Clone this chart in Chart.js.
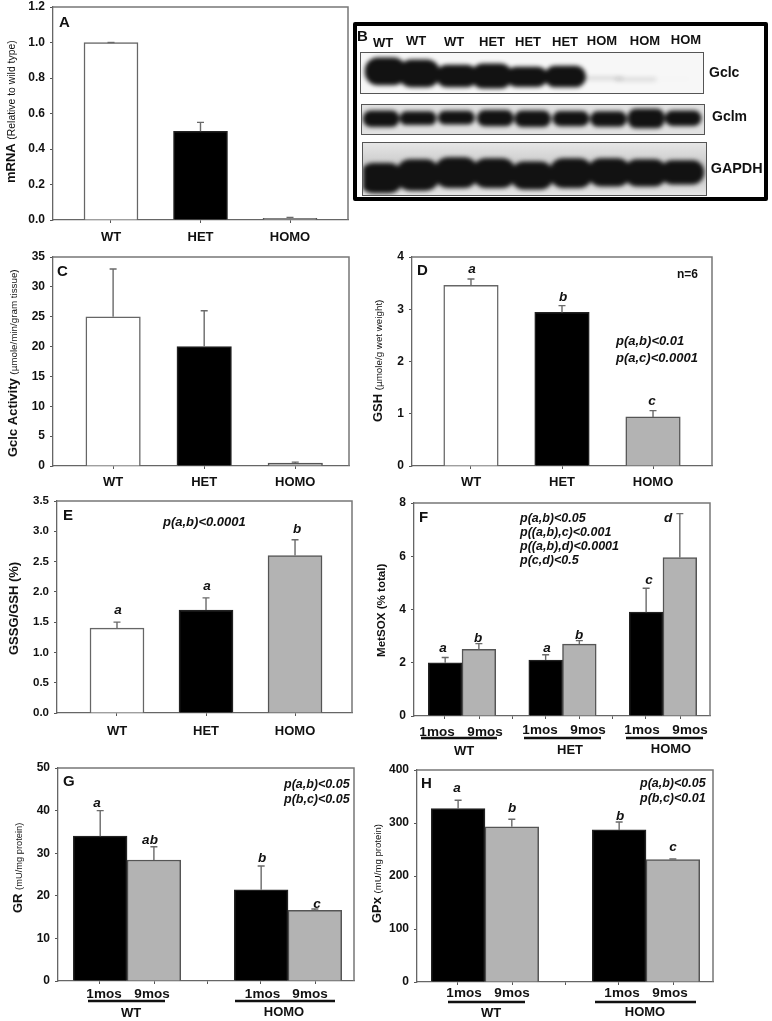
<!DOCTYPE html>
<html>
<head>
<meta charset="utf-8">
<title>Gclc panels</title>
<script src="https://cdn.jsdelivr.net/npm/chart.js@4/dist/chart.umd.min.js"></script>
<style>
  html, body { margin: 0; padding: 0; background: #fff; }
  body { position: relative; width: 772px; height: 1021px; overflow: hidden; }
  canvas.panel { position: absolute; filter: blur(0.35px); }
  .frame { position: absolute; left: 353px; top: 22px; width: 415px; height: 179px; box-sizing: border-box; border: 4px solid #000; border-radius: 2px; }
  .blot { position: absolute; box-sizing: border-box; border: 1px solid #555; overflow: hidden; }
  .blot canvas { position: absolute; left: 0; top: 0; filter: blur(2.2px); }
  .lbl { position: absolute; font-family: "Liberation Sans", Arial, sans-serif; font-weight: bold; color: #111; white-space: nowrap; line-height: normal; }
</style>
</head>
<body>
<script>
// ---- data ----
const genotypes = ["WT", "HET", "HOMO"];
const genoPos = [1, 2, 3];
const groupPos2 = [1, 2];

const mrnaValues = [1.0, 0.5, 0.01];
const mrnaErrTop = [1.0, 0.55, 0.015];
const activityValues = [25, 20, 0.5];
const activityErrTop = [33, 26, 0.65];
const gshValues = [3.46, 2.94, 0.94];
const gshErrTop = [3.58, 3.07, 1.06];
const gssgValues = [1.4, 1.7, 2.6];
const gssgErrTop = [1.5, 1.9, 2.86];

const metsox1mos = [2.0, 2.1, 3.9];
const metsox1Top = [2.2, 2.3, 4.8];
const metsox9mos = [2.5, 2.7, 5.95];
const metsox9Top = [2.72, 2.83, 7.6];
const metsoxTicks = [0.83, 1.17, 1.5, 1.83, 2.17, 2.5, 2.83, 3.17];

const gr1mos = [34, 21.4];
const gr1Top = [40, 27];
const gr9mos = [28.4, 16.6];
const gr9Top = [31.5, 16.9];
const gpx1mos = [327, 287];
const gpx1Top = [343, 302];
const gpx9mos = [293, 231];
const gpx9Top = [307, 232];
const twoGroupTicks = [0.83, 1.17, 1.5, 1.83, 2.17];

// blot bands, lane centre and band top/bottom as % of the strip
const gclcLanes = [7.2, 17, 28, 38.2, 48.5, 59.7, 70.6, 80.3, 90];
const gclcLow = [12, 17, 30, 27, 35, 33, 59, 61, 64];
const gclcHigh = [80, 85, 85, 88, 84, 85, 67, 71, 66];
const gclcShade = [1, 1, 1, 1, 1, 1, 0.12, 0.1, 0.02];
const gclmLanes = [5.6, 16.4, 27.6, 39, 49.9, 61.1, 72.1, 83.1, 93.9];
const gclmLow = [20, 23, 21, 18, 20, 22, 23, 14, 20];
const gclmHigh = [75, 68, 66, 72, 75, 72, 74, 79, 71];
const gapdhLanes = [5.3, 16, 27.2, 38.2, 49.3, 60.7, 71.8, 82.4, 93.1];
const gapdhLow = [39, 32, 28, 30, 36, 30, 30, 32, 34];
const gapdhHigh = [96, 91, 86, 86, 89, 86, 83, 83, 79];

// ---- styles ----
const FAMILY = '"Liberation Sans", Arial, sans-serif';
const bold = (s) => `bold ${s}px ${FAMILY}`;
const ital = (s) => `italic bold ${s}px ${FAMILY}`;
const reg = (s) => `${s}px ${FAMILY}`;
const WHITE = "#ffffff", BLACK = "#000000", GREY = "#b3b3b3";
const TEXT = "#111111";

Chart.defaults.font.family = FAMILY;
Chart.defaults.animation = false;

// little helpers for the annotation lists
const T = (t, x, y, font) => ({ t, x, y, font });
const C = (t, x, y, font) => ({ t, x, y, font, align: "center" });
const letter = (t, x, y) => C(t, x, y, ital(13.5));
const panelTag = (t, x, y) => T(t, x, y, bold(15));
const yTitle = (x, yBottom, runs) => ({ x, yBottom, runs });

// top and right lines of each plot box
const boxPlugin = {
  id: "box",
  afterDraw(chart) {
    const { ctx, chartArea: a } = chart;
    ctx.save();
    ctx.strokeStyle = "#777";
    ctx.lineWidth = 1.5;
    ctx.beginPath();
    ctx.moveTo(a.left, a.top);
    ctx.lineTo(a.right, a.top);
    ctx.lineTo(a.right, a.bottom);
    ctx.stroke();
    ctx.restore();
  },
};

// upper error bars, from the errTop array on each dataset
const errorPlugin = {
  id: "errors",
  afterDatasetsDraw(chart) {
    const { ctx, scales } = chart;
    ctx.save();
    ctx.strokeStyle = "#6a6a6a";
    ctx.lineWidth = 1.4;
    chart.data.datasets.forEach((ds, i) => {
      chart.getDatasetMeta(i).data.forEach((bar, j) => {
        const top = scales.y.getPixelForValue(ds.errTop[j]);
        ctx.beginPath();
        ctx.moveTo(bar.x, bar.y);
        ctx.lineTo(bar.x, top);
        ctx.moveTo(bar.x - 3.5, top);
        ctx.lineTo(bar.x + 3.5, top);
        ctx.stroke();
      });
    });
    ctx.restore();
  },
};

// free text, underlines and rotated axis titles (page coordinates)
const notesPlugin = {
  id: "notes",
  afterDraw(chart, args, opts) {
    const { ctx } = chart;
    ctx.save();
    ctx.translate(-opts.ox, -opts.oy);
    ctx.fillStyle = TEXT;
    ctx.textBaseline = "alphabetic";
    (opts.notes || []).forEach((n) => {
      ctx.font = n.font;
      ctx.textAlign = n.align || "left";
      ctx.fillText(n.t, n.x, n.y);
    });
    (opts.rules || []).forEach((r) => {
      ctx.fillRect(r[0], r[2] - 1.25, r[1] - r[0], 2.5);
    });
    if (opts.title) {
      ctx.save();
      ctx.translate(opts.title.x, opts.title.yBottom);
      ctx.rotate(-Math.PI / 2);
      ctx.textAlign = "left";
      let at = 0;
      opts.title.runs.forEach((run) => {
        ctx.font = run[1];
        ctx.fillText(run[0], at, 0);
        at += ctx.measureText(run[0]).width;
      });
      ctx.restore();
    }
    ctx.restore();
  },
};

function panel(def) {
  const [l, t, r, b] = def.plot;
  const ox = Math.max(0, l - 55);
  const oy = t - 8;
  const w = r - ox + 8;
  const bottomSpace = Math.min(44, 1021 - b);
  const h = b - oy + bottomSpace;

  const cv = document.createElement("canvas");
  cv.className = "panel";
  cv.width = w;
  cv.height = h;
  cv.style.left = ox + "px";
  cv.style.top = oy + "px";
  document.body.appendChild(cv);

  return new Chart(cv.getContext("2d"), {
    type: "bar",
    data: { datasets: def.datasets },
    options: {
      responsive: false,
      layout: { padding: { top: t - oy, right: ox + w - r, left: 0, bottom: 0 } },
      plugins: {
        legend: { display: false },
        tooltip: { enabled: false },
        notes: { ox, oy, notes: def.notes, rules: def.rules, title: def.title },
      },
      datasets: { bar: { barThickness: def.barWidth, borderWidth: 1.5, borderSkipped: "bottom", grouped: true } },
      scales: {
        x: {
          type: "linear",
          offset: false,
          min: def.xRange[0],
          max: def.xRange[1],
          border: { color: "#666", width: 1.3 },
          grid: { offset: false, drawOnChartArea: false, tickLength: 3, tickColor: "#555" },
          afterBuildTicks(axis) {
            axis.ticks = def.ticksAt.map((v) => ({ value: v }));
          },
          afterFit(axis) {
            axis.height = bottomSpace;
            axis.paddingLeft = 0;
            axis.paddingRight = 0;
          },
          ticks: {
            autoSkip: false,
            maxRotation: 0,
            padding: def.xPad || 6,
            color: TEXT,
            font: { size: 13, weight: "bold" },
            callback: (v, i) => (def.tickLabels ? def.tickLabels[i] : ""),
          },
        },
        y: {
          min: 0,
          max: def.yMax,
          border: { color: "#666", width: 1.3 },
          grid: { drawOnChartArea: false, tickLength: 3, tickColor: "#555" },
          afterFit(axis) {
            axis.width = l - ox;
            axis.paddingTop = 0;
            axis.paddingBottom = 0;
          },
          ticks: {
            stepSize: def.yStep,
            padding: 5,
            color: TEXT,
            font: { size: def.yFont || 12, weight: "bold" },
            callback: (v) => v.toFixed(def.yDec || 0),
          },
        },
      },
    },
    plugins: [boxPlugin, errorPlugin, notesPlugin],
  });
}

// one series of bars, one fill per genotype
function genoBars(label, values, errTop) {
  return [{
    label,
    data: genoPos.map((x, i) => ({ x, y: values[i] })),
    errTop,
    backgroundColor: [WHITE, BLACK, GREY],
    borderColor: ["#666", "#222", "#555"],
  }];
}
// two age series per genotype
function ageBars(pos, v1, top1, v9, top9) {
  return [
    { label: "1mos", data: pos.map((x, i) => ({ x, y: v1[i] })), errTop: top1, backgroundColor: BLACK, borderColor: "#222" },
    { label: "9mos", data: pos.map((x, i) => ({ x, y: v9[i] })), errTop: top9, backgroundColor: GREY, borderColor: "#555" },
  ];
}

// ---- panels ----
panel({
  plot: [53, 7, 348, 220], xRange: [0.352, 3.648], barWidth: 54, xPad: 7,
  ticksAt: genoPos, tickLabels: genotypes, yMax: 1.2, yStep: 0.2, yDec: 1,
  datasets: genoBars("mRNA", mrnaValues, mrnaErrTop),
  notes: [panelTag("A", 59, 27)],
  title: yTitle(15, 183, [["mRNA ", bold(13)], ["(Relative to wild type)", reg(10.4)]]),
});

panel({
  plot: [53, 257, 349, 466], xRange: [0.34, 3.59], barWidth: 54.5,
  ticksAt: genoPos, tickLabels: genotypes, yMax: 35, yStep: 5,
  datasets: genoBars("Gclc activity", activityValues, activityErrTop),
  notes: [panelTag("C", 57, 276)],
  title: yTitle(17, 457, [["Gclc Activity ", bold(13)], ["(µmole/min/gram tissue)", reg(9.8)]]),
});

panel({
  plot: [412, 257, 712, 466], xRange: [0.352, 3.648], barWidth: 54.5,
  ticksAt: genoPos, tickLabels: genotypes, yMax: 4, yStep: 1,
  datasets: genoBars("GSH", gshValues, gshErrTop),
  notes: [
    panelTag("D", 417, 275), T("n=6", 677, 278, bold(12)),
    letter("a", 472, 273), letter("b", 563, 301), letter("c", 652, 405),
    T("p(a,b)<0.01", 616, 345, ital(13)), T("p(a,c)<0.0001", 616, 362, ital(13)),
  ],
  title: yTitle(382, 422, [["GSH ", bold(13)], ["(µmole/g wet weight)", reg(9.8)]]),
});

panel({
  plot: [57, 501, 352, 713], xRange: [0.326, 3.64], barWidth: 54,
  ticksAt: genoPos, tickLabels: genotypes, yMax: 3.5, yStep: 0.5, yDec: 1, yFont: 11.5, xPad: 8,
  datasets: genoBars("GSSG/GSH", gssgValues, gssgErrTop),
  notes: [
    panelTag("E", 63, 520), T("p(a,b)<0.0001", 163, 526, ital(13)),
    letter("a", 118, 614), letter("a", 207, 590), letter("b", 297, 533),
  ],
  title: yTitle(17.5, 655, [["GSSG/GSH (%)", bold(13)]]),
});

panel({
  plot: [414, 503, 710, 716], xRange: [0.522, 3.468], barWidth: 33.7,
  ticksAt: metsoxTicks, yMax: 8, yStep: 2,
  datasets: ageBars(genoPos, metsox1mos, metsox1Top, metsox9mos, metsox9Top),
  notes: [
    panelTag("F", 419, 522),
    T("p(a,b)<0.05", 520, 522, ital(12.5)), T("p((a,b),c)<0.001", 520, 536, ital(12.5)),
    T("p((a,b),d)<0.0001", 520, 550, ital(12.5)), T("p(c,d)<0.5", 520, 564, ital(12.5)),
    letter("a", 443, 652), letter("b", 478, 642), letter("a", 547, 652),
    letter("b", 579, 639), letter("c", 649, 584), letter("d", 668, 522),
    C("1mos", 437, 736, bold(13.5)), C("9mos", 485, 736, bold(13.5)),
    C("1mos", 540, 734, bold(13.5)), C("9mos", 588, 734, bold(13.5)),
    C("1mos", 642, 734, bold(13.5)), C("9mos", 690, 734, bold(13.5)),
    C("WT", 464, 755, bold(13)), C("HET", 570, 754, bold(13)), C("HOMO", 671, 753, bold(13)),
  ],
  rules: [[421, 497, 738], [524, 601, 738], [626, 703, 738]],
  title: yTitle(385, 657, [["MetSOX (% total)", bold(11.6)]]),
});

panel({
  plot: [58, 768, 354, 981], xRange: [0.571, 2.41], barWidth: 53.7,
  ticksAt: twoGroupTicks, yMax: 50, yStep: 10,
  datasets: ageBars(groupPos2, gr1mos, gr1Top, gr9mos, gr9Top),
  notes: [
    panelTag("G", 63, 786),
    T("p(a,b)<0.05", 284, 788, ital(12.5)), T("p(b,c)<0.05", 284, 803, ital(12.5)),
    letter("a", 97, 807), letter("ab", 150, 844), letter("b", 262, 862), letter("c", 317, 908),
    C("1mos", 104, 998, bold(13.5)), C("9mos", 152, 998, bold(13.5)),
    C("1mos", 262.5, 998, bold(13.5)), C("9mos", 310, 998, bold(13.5)),
    C("WT", 131, 1017, bold(13)), C("HOMO", 284, 1016, bold(13)),
  ],
  rules: [[88, 165, 1001], [235, 335, 1001]],
  title: yTitle(21.5, 913, [["GR ", bold(13)], ["(mU/mg protein)", reg(9.3)]]),
});

panel({
  plot: [417, 770, 713, 982], xRange: [0.578, 2.416], barWidth: 53.7,
  ticksAt: twoGroupTicks, yMax: 400, yStep: 100,
  datasets: ageBars(groupPos2, gpx1mos, gpx1Top, gpx9mos, gpx9Top),
  notes: [
    panelTag("H", 421, 788),
    T("p(a,b)<0.05", 640, 787, ital(12.5)), T("p(b,c)<0.01", 640, 802, ital(12.5)),
    letter("a", 457, 792), letter("b", 512, 812), letter("b", 620, 820), letter("c", 673, 851),
    C("1mos", 464, 997, bold(13.5)), C("9mos", 512, 997, bold(13.5)),
    C("1mos", 622, 997, bold(13.5)), C("9mos", 670, 997, bold(13.5)),
    C("WT", 491, 1017, bold(13)), C("HOMO", 645, 1016, bold(13)),
  ],
  rules: [[448, 525, 1002], [595, 696, 1002]],
  title: yTitle(381, 923, [["GPx ", bold(13)], ["(mU/mg protein)", reg(9.6)]]),
});

// ---- panel B: blot strips ----
const frame = document.createElement("div");
frame.className = "frame";
document.body.appendChild(frame);

function strip(rect, bg, lanes, low, high, shade, bandWidth, radius) {
  const [x0, y0, x1, y1] = rect;
  const box = document.createElement("div");
  box.className = "blot";
  box.style.cssText = `left:${x0}px;top:${y0}px;width:${x1 - x0}px;height:${y1 - y0}px;background:${bg}`;
  const cv = document.createElement("canvas");
  cv.width = x1 - x0 - 2;
  cv.height = y1 - y0 - 2;
  box.appendChild(cv);
  document.body.appendChild(box);
  new Chart(cv.getContext("2d"), {
    type: "bar",
    data: {
      datasets: [{
        label: "band",
        data: lanes.map((x, i) => ({ x, y: [low[i], high[i]] })),
        backgroundColor: shade.map((a) => `rgba(18,18,18,${a})`),
        barThickness: bandWidth,
        borderSkipped: false,
        borderRadius: radius,
      }],
    },
    options: {
      responsive: false,
      plugins: { legend: { display: false }, tooltip: { enabled: false } },
      scales: {
        x: { type: "linear", display: false, offset: false, min: 0, max: 100 },
        y: { display: false, reverse: true, min: 0, max: 100 },
      },
    },
  });
}

const solid = gclmLanes.map(() => 1);
strip([360, 52, 704, 94], "#f7f7f7", gclcLanes, gclcLow, gclcHigh, gclcShade, 41, 13);
strip([361, 104, 705, 135], "#e2e2e2", gclmLanes, gclmLow, gclmHigh, solid, 36, 8);
strip([362, 142, 707, 196], "linear-gradient(#e6e6e6,#cccccc 40%,#d6d6d6 80%,#e6e6e6)", gapdhLanes, gapdhLow, gapdhHigh, solid, 43, 14);

function label(text, x, baseline, size, centre) {
  const s = document.createElement("span");
  s.className = "lbl";
  s.textContent = text;
  s.style.fontSize = size + "px";
  s.style.top = baseline - 0.905 * size + "px";
  s.style.left = x + "px";
  if (centre) s.style.transform = "translateX(-50%)";
  document.body.appendChild(s);
}

label("B", 357, 40.7, 15);
label("WT", 383, 47, 13, true);
label("WT", 416, 45, 13, true);
label("WT", 454, 45.6, 13, true);
label("HET", 492, 45.6, 13, true);
label("HET", 528, 45.6, 13, true);
label("HET", 565, 45.6, 13, true);
label("HOM", 602, 44.7, 13, true);
label("HOM", 645, 44.7, 13, true);
label("HOM", 686, 43.7, 13, true);
label("Gclc", 709, 76.7, 14);
label("Gclm", 712, 120.7, 14);
label("GAPDH", 710.7, 173, 14.4);
</script>
</body>
</html>
